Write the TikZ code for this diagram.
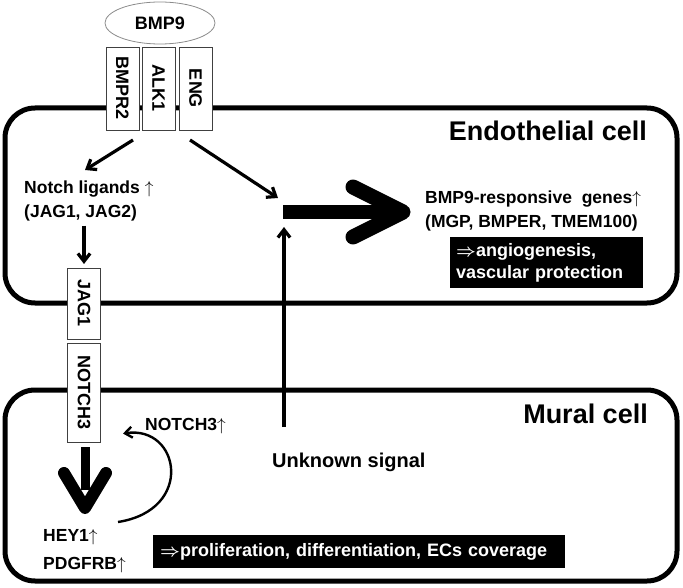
\documentclass[tikz,border=0pt]{standalone}
\usepackage{fontspec}
\setmainfont{Liberation Sans}
\usetikzlibrary{arrows.meta,calc,positioning,shapes.geometric}

\tikzset{
  cell/.style={line width=5pt, rounded corners=30pt},
  rcpt/.style={draw=black!75, fill=white, line width=0.8pt, rotate=-90,
    minimum height=33pt, inner sep=0pt, font=\fontsize{18}{18}\selectfont\bfseries},
  lbl/.style={font=\fontsize{17.5}{24}\selectfont\bfseries, align=left, inner sep=0pt},
  title/.style={font=\fontsize{27}{27}\selectfont\bfseries, inner sep=0pt},
  outcome/.style={fill=black, text=white, inner sep=0pt,
    font=\fontsize{18}{22}\selectfont\bfseries\boldmath, align=left},
  sig/.style={line width=3.2pt, -{Straight Barb[angle=75:10pt]}},
  fat/.style={line width=#1, line join=round, line cap=round},
}

\begin{document}
\begin{tikzpicture}[x=1pt, y=-1pt]
    \useasboundingbox (0,0) rectangle (683,588);

    % cells
    \draw[cell] (5,108) rectangle (677,303);
    \draw[cell] (5,390) rectangle (677,581);
    \node[title, anchor=base east] (endo) at (647,141) {Endothelial cell};
    \node[title, anchor=base east] (mural) at (648,423) {Mural cell};

    % ligand and receptors
    \node[draw=black!45, line width=0.8pt, ellipse, minimum width=110pt,
          minimum height=42pt, font=\fontsize{18}{18}\selectfont\bfseries]
          (bmp9) at (160,23) {BMP9};
    \node[rcpt, minimum width=83pt] (bmpr2) at (122.5,88.5) {BMPR2};
    \node[rcpt, minimum width=83pt] (alk1) at (158.5,88.5) {ALK1};
    \node[rcpt, minimum width=83pt] (eng) at (195.5,88.5) {ENG};
    \node[rcpt, minimum width=71pt] (jag1) at (84,303.5) {JAG1};
    \node[rcpt, minimum width=99pt] (notch3) at (84,392.5) {NOTCH3};
    \coordinate (rbase) at (160,130);
    \coordinate (jagtop) at (84,268);
    \coordinate (notchend) at (84,442);

    % endothelial side
    \node[lbl, anchor=north west] (ligands) at (24,181)
      {Notch ligands $\uparrow$\\(JAG1, JAG2)};
    \node[lbl, anchor=north west] (genes) at (425,191)
      {BMP9-responsive\ \ genes$\uparrow$\\(MGP, BMPER, TMEM100)};
    \node[outcome, anchor=north west, minimum width=193pt, minimum height=51pt,
          text width=181pt, inner xsep=6pt] (angio) at (450,237)
      {$\Rightarrow$angiogenesis,\\vascular protection};

    \coordinate (hub) at (283,212);
    \coordinate (tip) at (403,212);
    \draw[sig] ($(rbase)+(-27,10)$) -- ($(ligands.north west)+(61,-11)$);
    \draw[sig] ($(rbase)+(30,10)$) -- ($(hub)+(-5,-14)$);
    \draw[sig] (jagtop |- ligands.south) ++(0,4) -- ($(jagtop)+(0,-4)$);
    \draw[line width=14pt] (hub) -- (tip);
    \draw[fat=15pt] ($(tip)+(-50,-25)$) -- (tip) -- ($(tip)+(-50,25)$);

    % mural side
    \node[font=\fontsize{20}{20}\selectfont\bfseries, inner sep=0pt,
          anchor=base west] (unknown) at (272,467) {Unknown signal};
    \coordinate (sig) at (284,427);
    \draw[sig] (sig) -- ($(hub)+(1,15)$);

    \node[lbl, anchor=base west] (notchup) at (145,430) {NOTCH3$\uparrow$};
    \node[lbl, anchor=base west] (hey1) at (43,541) {HEY1$\uparrow$};
    \node[lbl, anchor=base west] (pdgfrb) at (43,569) {PDGFRB$\uparrow$};
    \draw[line width=9pt] ($(notchend)+(1,5)$) -- ++(0,43);
    \draw[fat=12pt] ($(notchend)+(-20,31)$) -- ++(21,35) -- ++(21,-35);
    \draw[line width=2.4pt, -{Straight Barb[angle=75:9pt]}]
      (118,522) .. controls (195,510) and (180,425) ..
      ($(notchup.west)+(-22,8)$);

    \node[outcome, anchor=north west, minimum width=412pt, minimum height=33pt,
          text width=398pt, inner xsep=7pt] (prolif) at (153,535)
      {$\Rightarrow$proliferation, differentiation, ECs coverage};
\end{tikzpicture}
\end{document}
